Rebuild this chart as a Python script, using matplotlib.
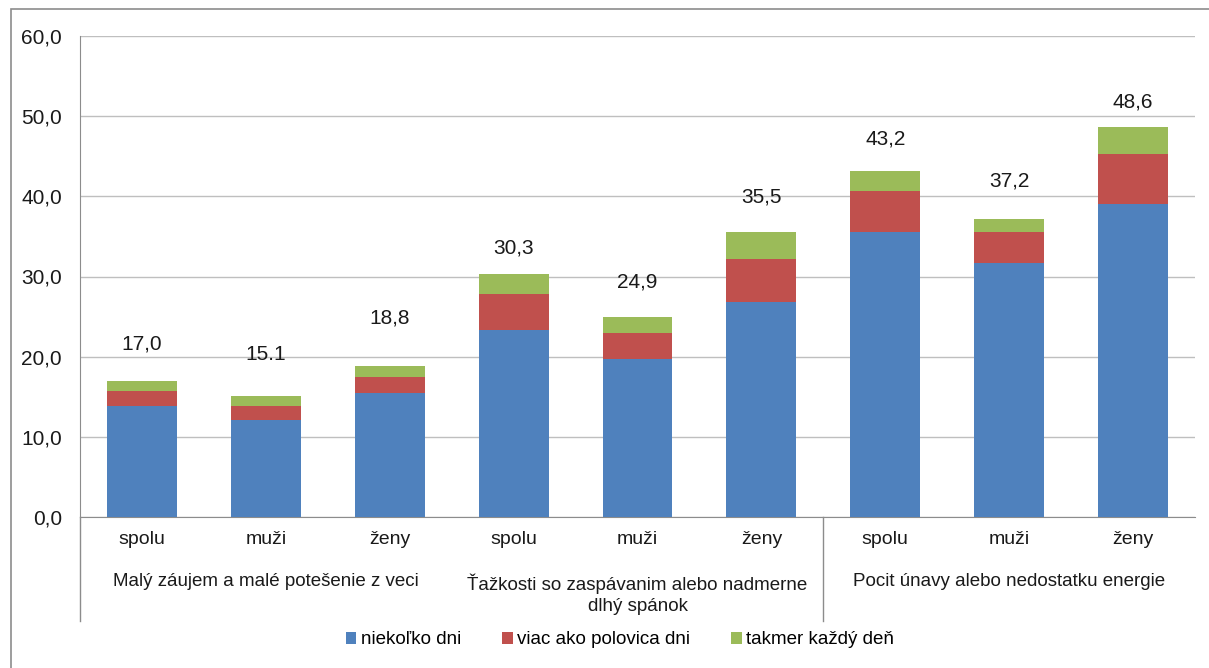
import matplotlib
matplotlib.use("Agg")
import matplotlib.pyplot as plt
import numpy as np
from matplotlib.patches import Rectangle, Patch
from matplotlib.ticker import FuncFormatter

plt.rcParams['font.family'] = ['Liberation Sans', 'DejaVu Sans']

# data
groups = ["Malý záujem a malé potešenie z veci",
          "Ťažkosti so zaspávanim alebo nadmerne\ndlhý spánok",
          "Pocit únavy alebo nedostatku energie"]
subgroups = ["spolu", "muži", "ženy"] * 3
series_names = ["niekoľko dni", "viac ako polovica dni", "takmer každý deň"]
few_days = [13.8, 12.1, 15.5, 23.3, 19.7, 26.8, 35.5, 31.7, 39.1]
over_half = [1.9, 1.7, 2.0, 4.5, 3.3, 5.4, 5.2, 3.8, 6.2]
almost_daily = [1.3, 1.3, 1.3, 2.5, 1.9, 3.3, 2.5, 1.7, 3.3]
totals = ["17,0", "15.1", "18,8", "30,3", "24,9", "35,5", "43,2", "37,2", "48,6"]

colors = ["#4F81BD", "#C0504D", "#9BBB59"]
# vertical gap (px) between bar top and its total label
label_gap = [37, 41, 48, 26, 35, 35, 32, 38, 25]

W, H = 1209, 668
fig = plt.figure(figsize=(W / 100, H / 100), dpi=100)
fig.patch.set_facecolor("white")

# outer chart frame
fig.patches.append(Rectangle((11 / W, -0.1), 2, 1.1 - 9 / H, transform=fig.transFigure,
                             fill=False, edgecolor="#8C8C8C", linewidth=1.2))

ax = fig.add_axes([80 / W, (H - 517) / H, 1115 / W, 481 / H])

x = np.arange(len(subgroups))
bw = 0.565
stack = [few_days, over_half, almost_daily]
bottom = np.zeros(len(x))
for vals, c in zip(stack, colors):
    ax.bar(x, vals, bw, bottom=bottom, color=c, zorder=3)
    bottom += np.array(vals)

for xi, top, txt, gap in zip(x, bottom, totals, label_gap):
    ax.annotate(txt, (xi, top), xytext=(0, gap * 0.72), textcoords="offset points",
                ha="center", va="center", fontsize=15, color="#1A1A1A")

ax.set_xlim(-0.5, len(x) - 0.5)
ax.set_ylim(0, 60)
ax.set_yticks(np.arange(0, 61, 10))
ax.yaxis.set_major_formatter(FuncFormatter(lambda v, p: f"{v:.1f}".replace(".", ",")))
ax.grid(axis="y", color="#BFBFBF", linewidth=1, zorder=0)
ax.tick_params(axis="y", length=0, pad=13, labelsize=15, labelcolor="#1A1A1A")
ax.set_xticks(x)
ax.set_xticklabels(subgroups)
ax.tick_params(axis="x", length=0, pad=10, labelsize=14, labelcolor="#1A1A1A")

for s in ["top", "right"]:
    ax.spines[s].set_visible(False)
ax.spines["left"].set_color("#8C8C8C")
ax.spines["bottom"].set_color("#8C8C8C")

# category group labels and divider lines below the axis
trans = matplotlib.transforms.blended_transform_factory(ax.transData, ax.transAxes)
low = -104 / 481
ax.plot([-0.5, -0.5], [0, low], transform=trans, color="#8C8C8C", lw=1, clip_on=False)
ax.plot([5.5, 5.5], [0, low], transform=trans, color="#8C8C8C", lw=1, clip_on=False)
for i, g in enumerate(groups):
    ax.text(3 * i + 1, -56 / 481, g, transform=trans, ha="center", va="top",
            fontsize=13.5, color="#1A1A1A", linespacing=1.35)

handles = [Patch(facecolor=c, edgecolor="none") for c in colors]
fig.legend(handles, series_names, loc="center", bbox_to_anchor=(620 / W, 1 - 640 / H),
           ncol=3, frameon=False, fontsize=13.5, handlelength=0.55, handleheight=0.55,
           handletextpad=0.25, columnspacing=2.2)

fig.savefig("out.png", dpi=100)
